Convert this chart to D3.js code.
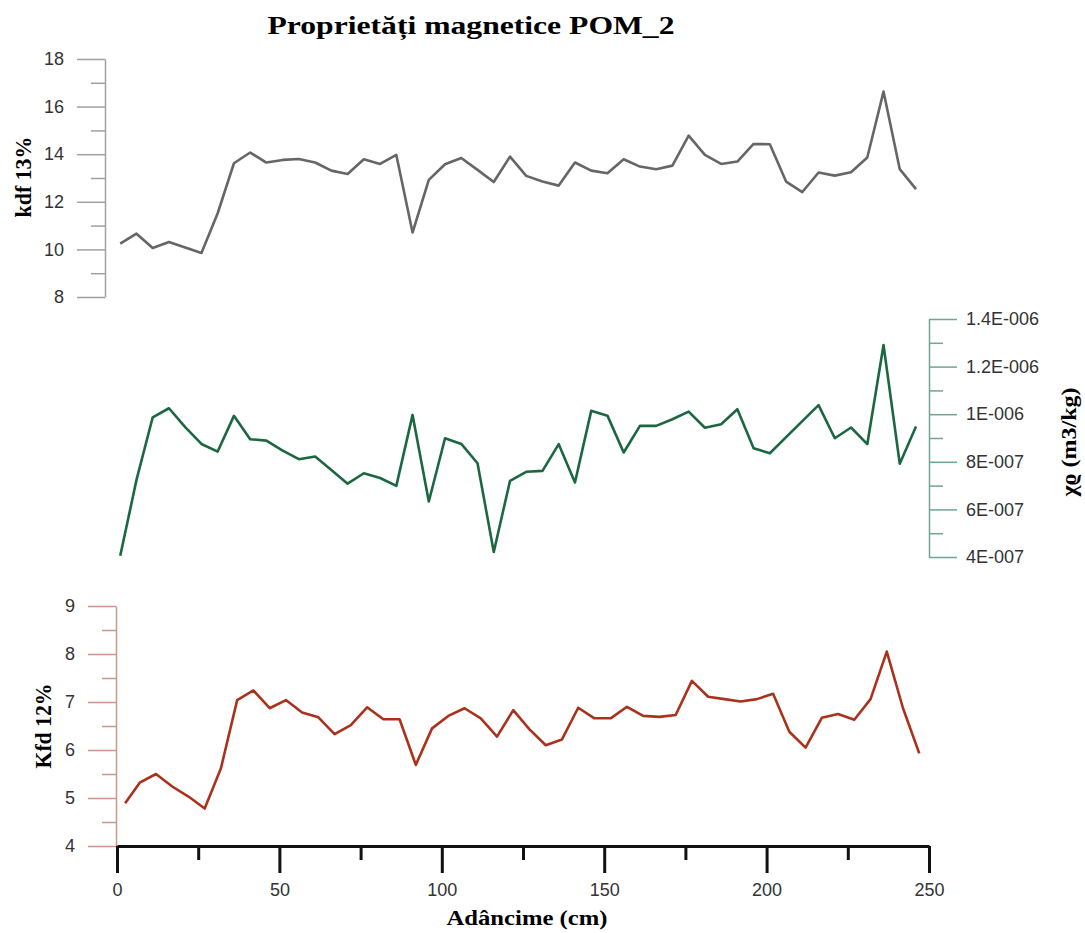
<!DOCTYPE html>
<html>
<head>
<meta charset="utf-8">
<script src="https://cdn.jsdelivr.net/npm/d3@7"></script>
<style>
  body { margin: 0; background: #fff; }
  text { font-family: "Liberation Sans", Arial, sans-serif; }
  .serif { font-family: "Liberation Serif", "DejaVu Serif", serif; font-weight: bold; }
</style>
</head>
<body>
<svg id="chart" width="1085" height="933"></svg>
<script>
// depth of each sample (cm)
const depthTop = [1, 6, 11, 16, 21, 26, 31, 36, 41, 46, 51, 56, 61, 66, 71, 76, 81, 86, 91, 96,
  101, 106, 111, 116, 121, 126, 131, 136, 141, 146, 151, 156, 161, 166, 171, 176, 181, 186, 191, 196,
  201, 206, 211, 216, 221, 226, 231, 236, 241, 246];
const depthBottom = [2.5, 7, 12, 17, 22, 27, 32, 37, 42, 47, 52, 57, 62, 67, 72, 77, 82, 87, 92, 97,
  102, 107, 112, 117, 122, 127, 132, 137, 142, 147, 152, 157, 162, 167, 172, 177, 182, 187, 192, 197,
  202, 207, 212, 217, 222, 227, 232, 237, 242, 247];

// kdf 13%
const kdf13 = [10.24, 10.66, 10.06, 10.31, 10.08, 9.85, 11.52, 13.62, 14.07, 13.65,
  13.76, 13.80, 13.65, 13.31, 13.17, 13.79, 13.59, 13.97, 10.71, 12.92,
  13.58, 13.84, 13.34, 12.83, 13.90, 13.09, 12.85, 12.68, 13.65, 13.31,
  13.20, 13.79, 13.48, 13.37, 13.52, 14.78, 13.97, 13.59, 13.69, 14.43,
  14.42, 12.85, 12.41, 13.23, 13.10, 13.24, 13.86, 16.63, 13.37, 12.53];

// mass susceptibility chi (m3/kg)
const chi = [4.05e-7, 7.24e-7, 9.87e-7, 10.25e-7, 9.46e-7, 8.75e-7, 8.43e-7, 9.93e-7, 8.95e-7, 8.89e-7,
  8.47e-7, 8.11e-7, 8.22e-7, 7.66e-7, 7.08e-7, 7.52e-7, 7.32e-7, 6.99e-7, 9.97e-7, 6.33e-7,
  8.99e-7, 8.75e-7, 7.94e-7, 4.21e-7, 7.20e-7, 7.58e-7, 7.62e-7, 8.74e-7, 7.13e-7, 10.14e-7,
  9.94e-7, 8.39e-7, 9.51e-7, 9.51e-7, 9.79e-7, 10.11e-7, 9.43e-7, 9.58e-7, 10.21e-7, 8.57e-7,
  8.36e-7, 9.04e-7, 9.71e-7, 10.38e-7, 8.99e-7, 9.44e-7, 8.74e-7, 12.91e-7, 7.92e-7, 9.48e-7];

// Kfd 12%
const kfd12 = [4.89, 5.32, 5.50, 5.24, 5.03, 4.78, 5.62, 7.04, 7.24, 6.87,
  7.04, 6.78, 6.68, 6.33, 6.52, 6.89, 6.64, 6.64, 5.69, 6.45,
  6.71, 6.87, 6.66, 6.28, 6.83, 6.43, 6.10, 6.22, 6.88, 6.66,
  6.66, 6.90, 6.71, 6.69, 6.73, 7.44, 7.11, 7.06, 7.01, 7.06,
  7.17, 6.38, 6.05, 6.67, 6.75, 6.63, 7.06, 8.05, 6.87, 5.93];

const kdfTicks = [8, 10, 12, 14, 16, 18];
const kdfMinor = [9, 11, 13, 15, 17];
const chiTicks = [4e-7, 6e-7, 8e-7, 1e-6, 1.2e-6, 1.4e-6];
const chiTickLabels = ['4E-007', '6E-007', '8E-007', '1E-006', '1.2E-006', '1.4E-006'];
const chiMinor = [5e-7, 7e-7, 9e-7, 1.1e-6, 1.3e-6];
const kfdTicks = [4, 5, 6, 7, 8, 9];
const kfdMinor = [4.5, 5.5, 6.5, 7.5, 8.5];
const depthTicks = [0, 50, 100, 150, 200, 250];
const depthMinor = [25, 75, 125, 175, 225];

const svg = d3.select('#chart');

const x = d3.scaleLinear().domain([0, 250]).range([117, 929]);
const yTop = d3.scaleLinear().domain([8, 18]).range([297, 59]);
const yMid = d3.scaleLinear().domain([4e-7, 1.4e-6]).range([557, 319]);
const yBot = d3.scaleLinear().domain([4, 9]).range([846, 606]);

function styleAxis(g, color, width)
{
    g.select('.domain').attr('stroke', color).attr('stroke-width', width);
    g.selectAll('.tick line').attr('stroke', color).attr('stroke-width', width);
    g.selectAll('.tick text').attr('fill', '#333').style('font-size', '18px')
        .style('font-family', '"Liberation Sans", Arial, sans-serif');
}

function yAxis(scale, orient, xPos, major, minor, color, pad, fmt)
{
    const mk = orient === 'left' ? d3.axisLeft : d3.axisRight;
    const gMinor = svg.append('g').attr('transform', `translate(${xPos},0)`)
        .call(mk(scale).tickValues(minor).tickSize(14).tickFormat(''));
    styleAxis(gMinor, color, 1.5);
    gMinor.select('.domain').remove();
    const ax = mk(scale).tickValues(major).tickSizeInner(28).tickSizeOuter(0).tickPadding(pad)
        .tickFormat(fmt || d3.format('d'));
    const g = svg.append('g').attr('transform', `translate(${xPos},0)`).call(ax);
    styleAxis(g, color, 1.5);
    return g;
}

function drawLine(xs, ys, yScale, color)
{
    const line = d3.line().x((d, i) => x(xs[i])).y((d) => yScale(d));
    svg.append('path').datum(ys)
        .attr('d', line)
        .attr('fill', 'none')
        .attr('stroke', color)
        .attr('stroke-width', 2.6)
        .attr('stroke-linejoin', 'round');
}

function label(text, tx, ty, size, len, rotate)
{
    svg.append('text').attr('class', 'serif')
        .attr('transform', `translate(${tx},${ty})` + (rotate ? ' rotate(-90)' : ''))
        .attr('text-anchor', 'middle')
        .style('font-size', `${size}px`)
        .attr('textLength', len).attr('lengthAdjust', 'spacingAndGlyphs')
        .text(text);
}

// top panel: kdf 13%
yAxis(yTop, 'left', 105, kdfTicks, kdfMinor, '#a0a0a0', 13);
drawLine(depthTop, kdf13, yTop, '#666666');

// middle panel: chi
yAxis(yMid, 'right', 929, chiTicks, chiMinor, '#6fa592', 9, (d, i) => chiTickLabels[i]);
drawLine(depthTop, chi, yMid, '#1b6840');

// bottom panel: Kfd 12%
yAxis(yBot, 'left', 116, kfdTicks, kfdMinor, '#cc9585', 13);
drawLine(depthBottom, kfd12, yBot, '#aa321c');

// depth axis
const gxMinor = svg.append('g').attr('transform', 'translate(0,846)')
    .call(d3.axisBottom(x).tickValues(depthMinor).tickSize(14).tickFormat(''));
gxMinor.select('.domain').remove();
gxMinor.selectAll('.tick line').attr('stroke', '#111').attr('stroke-width', 3);
const gx = svg.append('g').attr('transform', 'translate(0,846)')
    .call(d3.axisBottom(x).tickValues(depthTicks).tickSizeInner(27).tickSizeOuter(0).tickPadding(10));
styleAxis(gx, '#111', 3);

// titles
label('Proprietăți magnetice POM_2', 471, 34, 26, 407, false);
label('Adâncime (cm)', 527, 925, 21, 161, false);
label('kdf 13%', 31, 177, 23, 81, true);
label('Kfd 12%', 51, 726, 23, 85, true);
label('χϱ (m3/kg)', 1076, 442, 22, 109, true);
</script>
</body>
</html>
